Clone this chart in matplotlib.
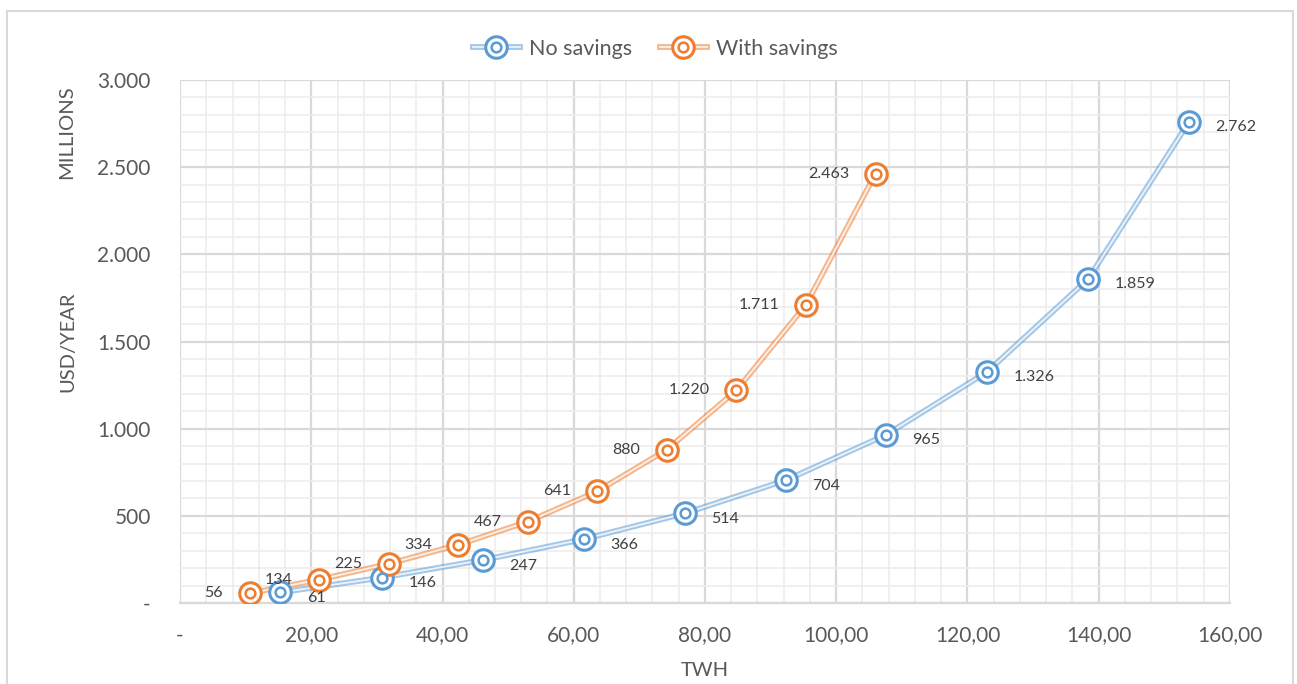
import matplotlib
matplotlib.use('Agg')
import matplotlib.pyplot as plt
from matplotlib.ticker import MultipleLocator, FuncFormatter
from matplotlib.patches import Rectangle
from matplotlib.lines import Line2D

plt.rcParams['font.family'] = ['Lato', 'DejaVu Sans']

# consumption (TWh) and yearly cost (USD millions)
twh_no = [15.3, 30.8, 46.2, 61.5, 76.9, 92.3, 107.6, 123.0, 138.4, 153.8]
usd_no = [61, 146, 247, 366, 514, 704, 965, 1326, 1859, 2762]
twh_with = [10.6, 21.2, 31.8, 42.4, 53.0, 63.6, 74.2, 84.8, 95.4, 106.0]
usd_with = [56, 134, 225, 334, 467, 641, 880, 1220, 1711, 2463]

blue = '#5B9BD5'
orange = '#ED7D31'
grey_text = '#595959'

fig = plt.figure(figsize=(12.97, 6.84), dpi=100)
ax = fig.add_axes([0.1388, 0.1184, 0.8095, 0.7646])

# chart border
fig.patches.append(Rectangle((7 / 1297, -0.05), 1286 / 1297, 1 - 11 / 684 + 0.05,
                             transform=fig.transFigure, fill=False,
                             edgecolor='#D9D9D9', lw=1.5))


def fmt_x(v, pos):
    if abs(v) < 1e-9:
        return '-'
    return f'{v:.2f}'.replace('.', ',')


def fmt_y(v, pos):
    if abs(v) < 1e-9:
        return '-'
    return f'{int(v):,}'.replace(',', '.')


def series_artists(color):
    # double line (coloured band with light centre) plus bullseye marker
    return (Line2D([], [], color=color, lw=4.2, alpha=0.55),
            Line2D([], [], color='white', lw=1.3, alpha=0.8),
            Line2D([], [], ls='none', marker='o', ms=15.5, mfc='white', mec=color, mew=2.2),
            Line2D([], [], ls='none', marker='o', ms=7, mfc='white', mec=color, mew=1.8))


def draw_series(x, y, color):
    ax.plot(x, y, color=color, lw=4.2, alpha=0.55, zorder=3, solid_capstyle='round')
    ax.plot(x, y, color='white', lw=1.3, alpha=0.8, zorder=3.1)
    ax.plot(x, y, ls='none', marker='o', ms=15.5, mfc='white', mec=color,
            mew=2.2, zorder=4)
    ax.plot(x, y, ls='none', marker='o', ms=7, mfc='white', mec=color,
            mew=1.8, zorder=5)


draw_series(twh_no, usd_no, blue)
draw_series(twh_with, usd_with, orange)

for xv, yv in zip(twh_no, usd_no):
    ax.annotate(fmt_y(yv, None), (xv, yv), xytext=(19, -4), textcoords='offset points',
                ha='left', va='center', fontsize=11.5, color='#404040', zorder=6)
for xv, yv in zip(twh_with, usd_with):
    ax.annotate(fmt_y(yv, None), (xv, yv), xytext=(-19, 0), textcoords='offset points',
                ha='right', va='center', fontsize=11.5, color='#404040', zorder=6)

ax.set_xlim(0, 160)
ax.set_ylim(0, 3000)
ax.xaxis.set_major_locator(MultipleLocator(20))
ax.xaxis.set_minor_locator(MultipleLocator(4))
ax.yaxis.set_major_locator(MultipleLocator(500))
ax.yaxis.set_minor_locator(MultipleLocator(100))
ax.xaxis.set_major_formatter(FuncFormatter(fmt_x))
ax.yaxis.set_major_formatter(FuncFormatter(fmt_y))

ax.grid(which='major', color='#D9D9D9', lw=1.6, zorder=0)
ax.grid(which='minor', color='#EDEDED', lw=1.2, zorder=0)
ax.set_axisbelow(True)
for side in ['top', 'right', 'left']:
    ax.spines[side].set_visible(False)
ax.spines['bottom'].set_color('#D9D9D9')
ax.spines['bottom'].set_linewidth(1.6)
ax.tick_params(which='both', length=0)
ax.tick_params(axis='x', pad=16, labelsize=15, labelcolor=grey_text)
ax.tick_params(axis='y', pad=21, labelsize=15, labelcolor=grey_text)

ax.set_xlabel('TWH', fontsize=14.5, color=grey_text, labelpad=12)
ax.set_ylabel('USD/YEAR', fontsize=14.5, color=grey_text, labelpad=15)
fig.text(67 / 1297, 1 - 132 / 684, 'MILLIONS', rotation=90, ha='center', va='center',
         fontsize=14.5, color=grey_text)

fig.legend([series_artists(blue), series_artists(orange)], ['No savings', 'With savings'],
           loc='center', bbox_to_anchor=(655 / 1297, 1 - 49 / 684), ncol=2,
           frameon=False, fontsize=15.5, labelcolor=grey_text, handlelength=2.2,
           columnspacing=1.3, handletextpad=0.4)

fig.savefig('out.png', dpi=100)
